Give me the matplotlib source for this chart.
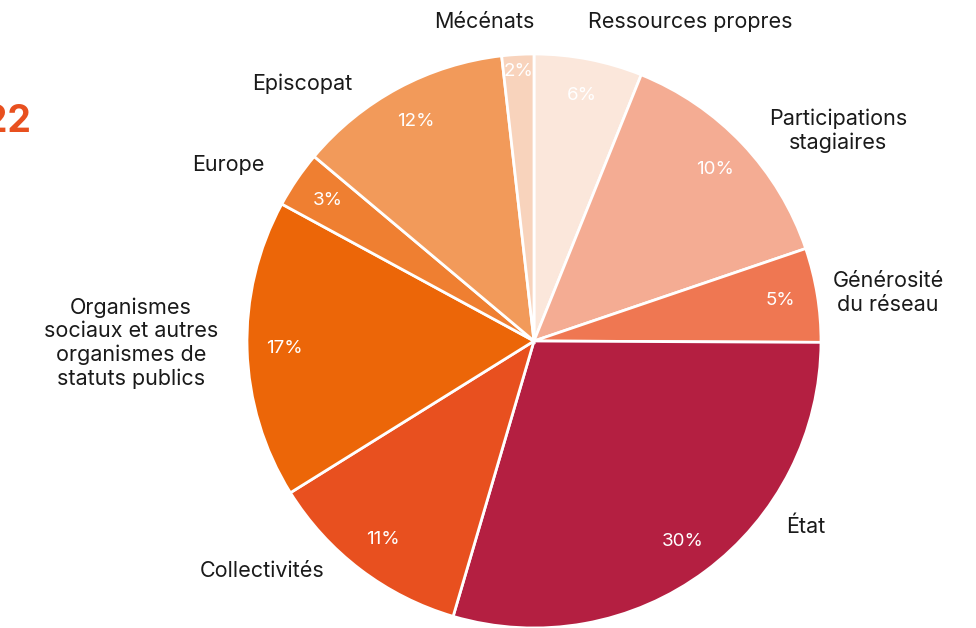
import numpy as np
import matplotlib
matplotlib.use("Agg")
import matplotlib.pyplot as plt

categories = ["Ressources propres", "Participations\nstagiaires", "Générosité\ndu réseau",
              "État", "Collectivités",
              "Organismes\nsociaux et autres\norganismes de\nstatuts publics",
              "Europe", "Episcopat", "Mécénats"]
shares = [6.1, 13.7, 5.3, 29.5, 11.6, 16.8, 3.2, 12.1, 1.8]
pct_labels = ["6%", "10%", "5%", "30%", "11%", "17%", "3%", "12%", "2%"]
colors = ["#FBE7DB", "#F4AC93", "#EF7752", "#B41F41", "#E8501F",
          "#EC6608", "#EF7F31", "#F29A5A", "#F8D3BC"]
# outer label anchor positions in pixels
label_pos = [(690, 22), (838, 131), (888, 293), (806, 527), (262, 571),
             (131, 343), (228, 165), (302, 84), (484, 22)]

W, H = 976, 628
cx, cy, R = 534, 341, 287

plt.rcParams['font.family'] = ['Inter', 'DejaVu Sans']

fig = plt.figure(figsize=(W / 100, H / 100), dpi=100)
ax = fig.add_axes([0, 0, 1, 1])

def px(x, y):
    return (x - cx) / R, (cy - y) / R

wedges, _ = ax.pie(shares, colors=colors, startangle=90, counterclock=False,
                   radius=1.0, center=(0, 0), frame=True,
                   wedgeprops=dict(edgecolor='white', linewidth=2))
ax.set_xlim(-cx / R, (W - cx) / R)
ax.set_ylim(-(H - cy) / R, cy / R)
ax.set_aspect('equal')
ax.axis('off')

for i, w in enumerate(wedges):
    mid = np.deg2rad((w.theta1 + w.theta2) / 2)
    rr = 0.94 if pct_labels[i] == "2%" else 0.87
    ax.text(rr * np.cos(mid), rr * np.sin(mid), pct_labels[i], color='white',
            fontsize=13.5, ha='center', va='center')

for lab, (x, y) in zip(categories, label_pos):
    X, Y = px(x, y)
    ax.text(X, Y, lab, color='#1a1a1a', fontsize=15.5, ha='center', va='center',
            linespacing=1.2)

X, Y = px(31, 122)
ax.text(X, Y, "2022", color='#E8501F', fontsize=27, fontweight='bold',
        ha='right', va='center')

fig.savefig("out.png", dpi=100)
